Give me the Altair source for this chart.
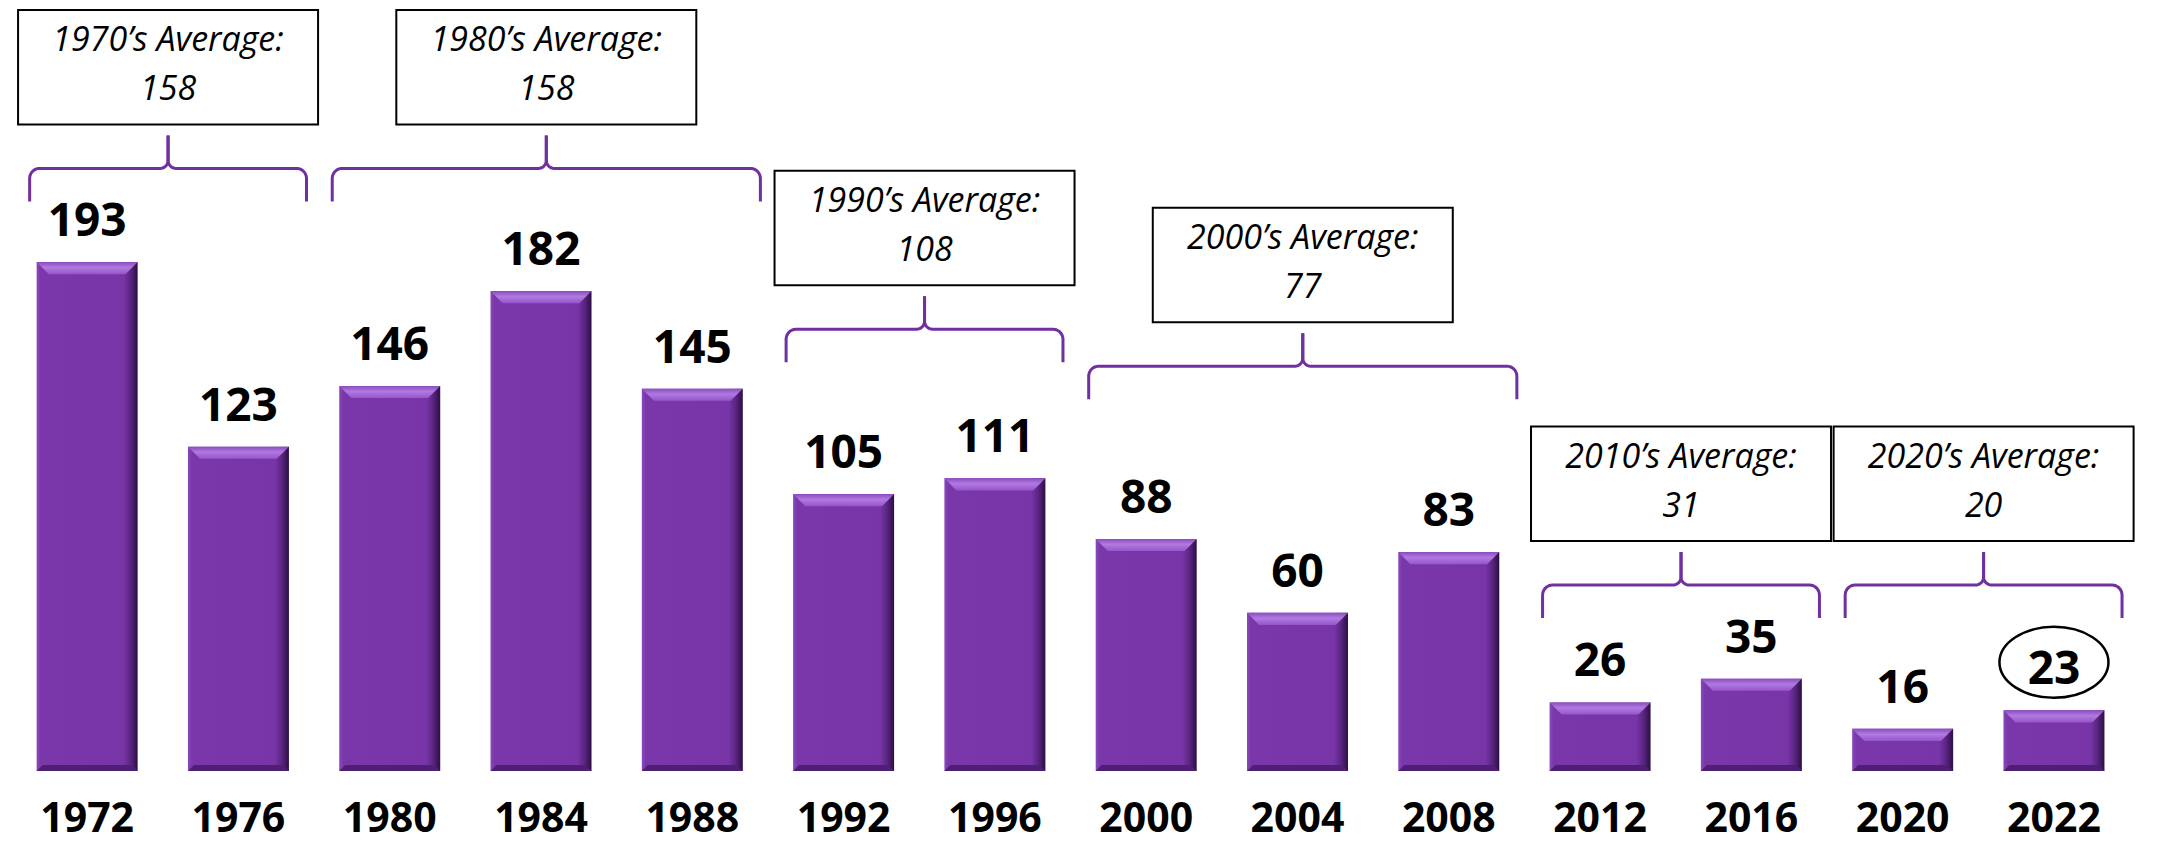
import math
import altair as alt
import pandas as pd

# ---------------- data ----------------
years = ["1972", "1976", "1980", "1984", "1988", "1992", "1996",
         "2000", "2004", "2008", "2012", "2016", "2020", "2022"]
values = [193, 123, 146, 182, 145, 105, 111, 88, 60, 83, 26, 35, 16, 23]
highlighted = ["2022"]

decade_labels = ["1970’s", "1980’s", "1990’s", "2000’s", "2010’s", "2020’s"]
decade_avgs = [158, 158, 108, 77, 31, 20]
decade_first = ["1972", "1980", "1992", "2000", "2012", "2020"]
decade_last = ["1976", "1988", "1996", "2008", "2016", "2022"]
brace_levels = [216, 216, 155, 141, 58, 58]   # data units where the brace feet sit

# ---------------- layout ----------------
W, H = 2144, 826
X_LO, X_HI = -0.49, 13.615
Y_LO, Y_HI = -23.9, 289.35
PXX = W / (X_HI - X_LO)
PXY = H / (Y_HI - Y_LO)
PURPLE = "#7030A0"
FONT = "Open Sans"

xs = alt.Scale(domain=[X_LO, X_HI], nice=False, zero=False)
ys = alt.Scale(domain=[Y_LO, Y_HI], nice=False, zero=False)

bars = pd.DataFrame({
    "year": years,
    "value": values,
    "idx": list(range(len(years))),
    "base": [0] * len(years),
    "hl": [y in highlighted for y in years],
})

idx_of = {y: i for i, y in enumerate(years)}

dec_rows = []
brace_rows = []
R1, R2, ARM, NECK = 10, 8, 33, 33
for k, lab in enumerate(decade_labels):
    a, b = idx_of[decade_first[k]], idx_of[decade_last[k]]
    xl, xr = a - 0.38, b + 0.45
    xp = (xl + xr) / 2
    L = brace_levels[k]
    dec_rows.append({"label": f"{lab} Average:", "avg": str(decade_avgs[k]),
                     "xp": xp, "level": L})
    for side, xe, sgn in (("l", xl, 1), ("r", xr, -1)):
        pts = [(xe, 0.0)]
        for t in range(9):
            th = math.pi - t * (math.pi / 2) / 8
            px = R1 + R1 * math.cos(th)
            py = ARM - R1 + R1 * math.sin(th)
            pts.append((xe + sgn * px / PXX, py))
        for t in range(9):
            th = -math.pi / 2 + t * (math.pi / 2) / 8
            px = -R2 + R2 * math.cos(th)
            py = ARM + R2 + R2 * math.sin(th)
            pts.append((xp + sgn * px / PXX, py))
        pts.append((xp, ARM + NECK))
        for o, (x, py) in enumerate(pts):
            brace_rows.append({"part": f"{k}{side}", "o": o, "x": x,
                               "y": L + py / PXY})

decs = pd.DataFrame(dec_rows)
braces = pd.DataFrame(brace_rows)

X = alt.X("idx:Q", scale=xs, axis=None)
Y = alt.Y("value:Q", scale=ys, axis=None)

body_grad = alt.Gradient(
    gradient="linear", x1=0, x2=1, y1=0, y2=0,
    stops=[alt.GradientStop(color="#8a48bd", offset=0),
           alt.GradientStop(color="#7a37aa", offset=0.04),
           alt.GradientStop(color="#7835a7", offset=0.86),
           alt.GradientStop(color="#5a2582", offset=0.93),
           alt.GradientStop(color="#2c0f42", offset=1)])

top_grad = alt.Gradient(
    gradient="linear", x1=0, x2=0, y1=0, y2=1,
    stops=[alt.GradientStop(color="#8c4bc0", offset=0),
           alt.GradientStop(color="#b07ae0", offset=0.45),
           alt.GradientStop(color="#9655cb", offset=1)])

base = alt.Chart(bars)

body = base.mark_bar(size=101, color=body_grad).encode(
    x=X, y=Y, y2=alt.Y2("base:Q"))

top_bevel = base.mark_point(
    shape="M-1,0 L1,0 L0.76,0.24 L-0.76,0.24 Z", size=101 * 101,
    filled=True, opacity=1, strokeWidth=0, color=top_grad).encode(x=X, y=Y)

bottom_bevel = base.mark_point(
    shape="M-1,0 L1,0 L0.88,-0.12 L-0.88,-0.12 Z", size=101 * 101,
    filled=True, opacity=1, strokeWidth=0, color="#4e1f72").encode(
    x=X, y=alt.Y("base:Q", scale=ys, axis=None))

value_labels = base.mark_text(
    dy=-26, baseline="alphabetic", font=FONT, fontSize=46,
    fontWeight="bold", color="black").encode(x=X, y=Y, text="value:Q")

year_labels = base.mark_text(
    dy=61, baseline="alphabetic", font=FONT, fontSize=41,
    fontWeight="bold", color="black").encode(
    x=X, y=alt.Y("base:Q", scale=ys, axis=None), text="year:N")

ring = base.transform_filter("datum.hl").mark_point(
    shape="M-1,0 A1,0.651 0 1,0 1,0 A1,0.651 0 1,0 -1,0 Z",
    size=109 * 109, filled=False, opacity=1, color="black",
    strokeWidth=2.5, yOffset=-48).encode(x=X, y=Y)

brace_lines = alt.Chart(braces).mark_line(
    color=PURPLE, strokeWidth=3, strokeJoin="round").encode(
    x=alt.X("x:Q", scale=xs, axis=None),
    y=alt.Y("y:Q", scale=ys, axis=None),
    detail="part:N", order="o:Q")

dbase = alt.Chart(decs)
DX = alt.X("xp:Q", scale=xs, axis=None)
DY = alt.Y("level:Q", scale=ys, axis=None)

boxes = dbase.mark_rect(
    xOffset=-150, x2Offset=150, yOffset=-191.5, y2Offset=-77,
    fill="white", stroke="black", strokeWidth=2).encode(
    x=DX, x2="xp:Q", y=DY, y2="level:Q")

box_line1 = dbase.mark_text(
    dy=-150, baseline="alphabetic", font=FONT, fontSize=34,
    fontStyle="italic", color="black").encode(x=DX, y=DY, text="label:N")

box_line2 = dbase.mark_text(
    dy=-101, baseline="alphabetic", font=FONT, fontSize=34,
    fontStyle="italic", color="black").encode(x=DX, y=DY, text="avg:N")

chart = alt.layer(
    body, top_bevel, bottom_bevel, value_labels, year_labels, ring,
    brace_lines, boxes, box_line1, box_line2
).properties(
    width=W, height=H,
    autosize=alt.AutoSizeParams(type="none"),
    padding=0,
).configure_view(stroke=None)

chart.save("out.html", embed_options={"renderer": "svg", "actions": False})
